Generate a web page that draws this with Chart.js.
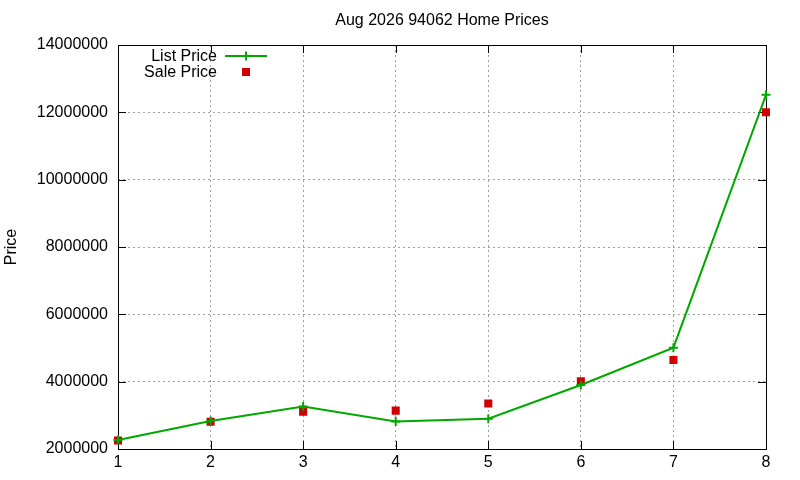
<!DOCTYPE html>
<html>
<head>
<meta charset="utf-8">
<script src="https://cdn.jsdelivr.net/npm/chart.js@4"></script>
<style>
  html, body { margin: 0; padding: 0; background: #fff; }
  #wrap { width: 800px; height: 480px; }
</style>
</head>
<body>
<div id="wrap"><canvas id="priceChart" width="800" height="480"></canvas></div>
<script>
const chartTitle = 'Aug 2026 94062 Home Prices';
const categories = ['1', '2', '3', '4', '5', '6', '7', '8'];
const listPrice = [2270000, 2830000, 3260000, 2815000, 2900000, 3900000, 5010000, 12520000];
const salePrice = [2250000, 2810000, 3110000, 3140000, 3350000, 4010000, 4645000, 12000000];
const yMin = 2000000;
const yMax = 14000000;
const yStep = 2000000;

const green = '#00a800';
const red = '#d00000';
const font = '"Liberation Sans", Arial, sans-serif';

// gnuplot-style frame, inward ticks, title and inside legend
const gnuplotLook = {
    id: 'gnuplotLook',
    beforeDatasetsDraw(chart) {
        const { ctx, chartArea: a, scales } = chart;
        ctx.save();
        ctx.strokeStyle = '#000';
        ctx.lineWidth = 1;
        ctx.beginPath();
        scales.y.ticks.forEach(t => {
            const y = Math.round(scales.y.getPixelForValue(t.value)) + 0.5;
            ctx.moveTo(a.left, y); ctx.lineTo(a.left + 8, y);
            ctx.moveTo(a.right, y); ctx.lineTo(a.right - 8, y);
        });
        scales.x.ticks.forEach((t, i) => {
            const x = Math.round(scales.x.getPixelForTick(i)) + 0.5;
            ctx.moveTo(x, a.bottom); ctx.lineTo(x, a.bottom - 8);
            ctx.moveTo(x, a.top); ctx.lineTo(x, a.top + 8);
        });
        ctx.stroke();
        ctx.strokeRect(Math.round(a.left) + 0.5, Math.round(a.top) + 0.5,
            Math.round(a.right - a.left), Math.round(a.bottom - a.top));
        ctx.restore();
    },
    afterDraw(chart) {
        const { ctx, chartArea: a } = chart;
        ctx.save();
        ctx.fillStyle = '#000';
        ctx.font = '16px ' + font;
        ctx.textAlign = 'center';
        ctx.textBaseline = 'middle';
        ctx.fillText(chartTitle, (a.left + a.right) / 2, 21);

        // legend
        ctx.textAlign = 'right';
        const ds = chart.data.datasets;
        const textX = 217, symX = 246;
        let y = a.top + 11;
        ds.forEach(d => {
            ctx.fillStyle = '#000';
            ctx.fillText(d.label, textX, y + 1);
            if (d.showLine !== false) {
                ctx.strokeStyle = d.borderColor;
                ctx.lineWidth = 2;
                ctx.beginPath();
                ctx.moveTo(225, y); ctx.lineTo(267, y);
                ctx.moveTo(symX, y - 4.5); ctx.lineTo(symX, y + 4.5);
                ctx.stroke();
            } else {
                ctx.fillStyle = d.pointBackgroundColor;
                ctx.fillRect(symX - 4, y - 4, 8, 8);
            }
            y += 16;
        });
        ctx.restore();
    }
};

new Chart(document.getElementById('priceChart'), {
    type: 'line',
    data: {
        labels: categories,
        datasets: [
            {
                label: 'List Price',
                data: listPrice,
                borderColor: green,
                backgroundColor: green,
                borderWidth: 2,
                tension: 0,
                pointStyle: 'cross',
                pointRadius: 4.5,
                pointBorderWidth: 2,
                pointBorderColor: green,
            },
            {
                label: 'Sale Price',
                data: salePrice,
                showLine: false,
                borderColor: red,
                pointStyle: 'rect',
                pointRadius: 5.7,
                pointBorderWidth: 0,
                pointBackgroundColor: red,
            },
        ],
    },
    options: {
        responsive: false,
        animation: false,
        layout: { padding: { top: 45, right: 34, bottom: 0, left: 0 } },
        plugins: {
            legend: { display: false },
            title: { display: false },
            tooltip: { enabled: false },
        },
        scales: {
            x: {
                offset: false,
                grid: { color: '#a0a0a0', drawTicks: false, lineWidth: 1 },
                border: { display: false, dash: [2, 3] },
                ticks: { color: '#000', font: { family: font, size: 16 }, padding: 4, maxRotation: 0 },
                afterFit(s) { s.height = 31; },
            },
            y: {
                min: yMin,
                max: yMax,
                grid: { color: '#a0a0a0', drawTicks: false, lineWidth: 1 },
                border: { display: false, dash: [2, 3] },
                ticks: {
                    stepSize: yStep,
                    color: '#000',
                    font: { family: font, size: 16 },
                    padding: 10,
                    callback: v => String(v),
                },
                title: {
                    display: true,
                    text: 'Price',
                    color: '#000',
                    font: { family: font, size: 16 },
                    padding: { top: 2, bottom: 0 },
                },
                afterFit(s) { s.width = 118; },
            },
        },
    },
    plugins: [gnuplotLook],
});
</script>
</body>
</html>
